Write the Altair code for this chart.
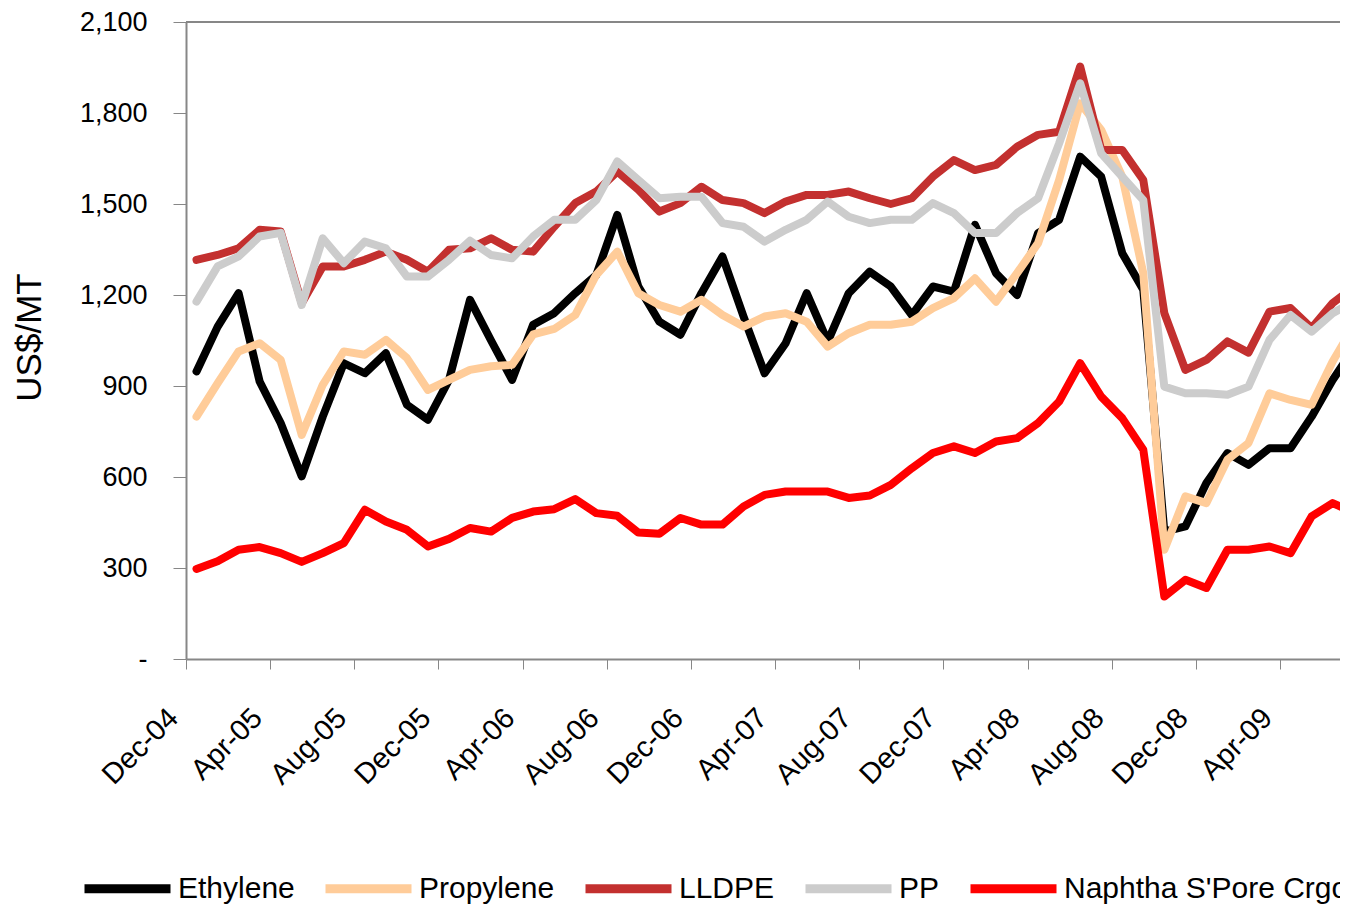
import json
import altair as alt
import pandas as pd

months = [
    "Dec-04", "Jan-05", "Feb-05", "Mar-05", "Apr-05", "May-05", "Jun-05", "Jul-05",
    "Aug-05", "Sep-05", "Oct-05", "Nov-05", "Dec-05", "Jan-06", "Feb-06", "Mar-06",
    "Apr-06", "May-06", "Jun-06", "Jul-06", "Aug-06", "Sep-06", "Oct-06", "Nov-06",
    "Dec-06", "Jan-07", "Feb-07", "Mar-07", "Apr-07", "May-07", "Jun-07", "Jul-07",
    "Aug-07", "Sep-07", "Oct-07", "Nov-07", "Dec-07", "Jan-08", "Feb-08", "Mar-08",
    "Apr-08", "May-08", "Jun-08", "Jul-08", "Aug-08", "Sep-08", "Oct-08", "Nov-08",
    "Dec-08", "Jan-09", "Feb-09", "Mar-09", "Apr-09", "May-09", "Jun-09", "Jul-09",
]
tick_labels = ["Dec-04", "Apr-05", "Aug-05", "Dec-05", "Apr-06", "Aug-06", "Dec-06",
               "Apr-07", "Aug-07", "Dec-07", "Apr-08", "Aug-08", "Dec-08", "Apr-09"]

ethylene = [948, 1095, 1206, 915, 778, 602, 799, 975, 942, 1008, 838, 789, 920, 1184,
            1050, 920, 1102, 1140, 1206, 1266, 1464, 1228, 1112, 1069, 1206, 1327, 1129,
            942, 1041, 1206, 1046, 1206, 1277, 1228, 1134, 1228, 1211, 1431, 1272, 1200,
            1404, 1448, 1656, 1590, 1338, 1217, 420, 437, 580, 679, 640, 695, 695, 799,
            920, 1023]
propylene = [799, 909, 1014, 1041, 986, 739, 904, 1014, 1003, 1052, 992, 887, 920, 953,
             965, 970, 1070, 1088, 1134, 1266, 1343, 1206, 1167, 1145, 1184, 1134, 1096,
             1129, 1140, 1112, 1030, 1074, 1102, 1102, 1112, 1157, 1190, 1255, 1178, 1272,
             1371, 1579, 1832, 1744, 1590, 1272, 360, 536, 514, 657, 712, 876, 854, 838,
             981, 1098]
lldpe = [1316, 1332, 1354, 1415, 1409, 1173, 1294, 1294, 1316, 1343, 1316, 1277, 1349,
         1354, 1387, 1349, 1343, 1425, 1503, 1541, 1607, 1547, 1475, 1503, 1557, 1513,
         1503, 1470, 1508, 1530, 1530, 1541, 1519, 1500, 1519, 1590, 1645, 1612, 1629,
         1689, 1728, 1738, 1953, 1678, 1678, 1579, 1140, 953, 986, 1047, 1010, 1145, 1157,
         1091, 1173, 1227]
pp = [1178, 1294, 1327, 1393, 1405, 1167, 1387, 1305, 1376, 1354, 1261, 1261, 1316, 1379,
      1332, 1321, 1393, 1448, 1448, 1513, 1640, 1579, 1519, 1524, 1524, 1437, 1425, 1376,
      1415, 1448, 1508, 1458, 1437, 1448, 1448, 1503, 1470, 1404, 1404, 1470, 1519, 1700,
      1898, 1667, 1590, 1513, 898, 876, 876, 871, 898, 1052, 1134, 1079, 1140, 1179]
naphtha = [297, 322, 360, 369, 349, 320, 349, 382, 492, 453, 426, 371, 396, 432, 420, 465,
           486, 494, 527, 481, 472, 417, 413, 465, 443, 443, 503, 541, 552, 552, 552, 531,
           539, 574, 629, 679, 701, 679, 717, 728, 778, 849, 975, 865, 794, 690, 206, 261,
           234, 360, 360, 371, 349, 470, 514, 483]

series_names = ["Ethylene", "Propylene", "LLDPE", "PP", "Naphtha S'Pore Crgo"]
series_values = [ethylene, propylene, lldpe, pp, naphtha]
series_colors = ["#000000", "#FFCC99", "#C3302F", "#CCCCCC", "#FF0000"]
y_ticks = [0, 300, 600, 900, 1200, 1500, 1800, 2100]
top_value = [2100]

rows = []
for name, vals in zip(series_names, series_values):
    for i, (m, v) in enumerate(zip(months, vals)):
        rows.append({"series": name, "idx": i, "month": m, "value": v})
df = pd.DataFrame(rows)

FONT = "Liberation Sans, Arial, sans-serif"
AXIS_GRAY = "#878787"

x_enc = alt.X(
    "idx:Q",
    scale=alt.Scale(domain=[-0.5, 54.35], nice=False, zero=False),
    axis=alt.Axis(
        title=None,
        values=[-0.5 + 4 * k for k in range(len(tick_labels))],
        labelExpr=json.dumps(tick_labels) + "[round((datum.value + 0.5) / 4)]",
        grid=False,
        domainColor=AXIS_GRAY, domainWidth=2,
        tickColor=AXIS_GRAY, tickWidth=1, tickSize=10,
        labelAngle=315, labelAlign="right", labelBaseline="middle",
        labelPadding=44, labelOffset=-13,
        labelFont=FONT, labelFontSize=29, labelColor="#000000",
        labelOverlap=False, labelFlush=False, labelBound=False,
    ),
)
y_axis = alt.Axis(
    title="US$/MT",
    values=y_ticks,
    labelExpr="datum.value == 0 ? '-' : format(datum.value, ',')",
    grid=False,
    domainColor=AXIS_GRAY, domainWidth=2,
    tickColor=AXIS_GRAY, tickWidth=1, tickSize=13,
    labelPadding=26, labelFont=FONT, labelFontSize=27, labelColor="#000000",
    labelOverlap=False, labelFlush=False,
    titleFont=FONT, titleFontSize=35, titleFontWeight="normal",
    titleColor="#000000", titleAngle=270, titleAlign="center",
    titleBaseline="middle", titleX=-157, titleY=315,
)
y_enc = alt.Y("value:Q", scale=alt.Scale(domain=[0, 2100], nice=False, zero=True),
              axis=y_axis)
color_enc = alt.Color(
    "series:N",
    scale=alt.Scale(domain=series_names, range=series_colors),
    legend=alt.Legend(
        orient="none", legendX=-106, legendY=819, direction="horizontal",
        title=None, symbolType="stroke", symbolSize=7396, symbolStrokeWidth=9,
        labelFont=FONT, labelFontSize=30, labelColor="#000000", labelOffset=3,
        columnPadding=12, padding=0, labelLimit=600,
    ),
)

base = alt.Chart(df).encode(x=x_enc, y=y_enc, color=color_enc)
layers = [
    base.transform_filter(alt.datum.series == name).mark_line(
        strokeWidth=8, clip=True, strokeJoin="round", strokeCap="round"
    )
    for name in series_names
]
top_rule = alt.Chart(pd.DataFrame({"value": top_value})).mark_rule(
    color=AXIS_GRAY, strokeWidth=2
).encode(y=y_enc)

chart = alt.layer(*layers, top_rule).properties(
    width=1154, height=637,
    padding={"left": 178, "top": 14, "right": 0, "bottom": 245},
    autosize=alt.AutoSizeParams(type="none"),
).configure_view(stroke=None).configure(background="white")

chart.save("out.html", embed_options={"renderer": "svg", "actions": False})
